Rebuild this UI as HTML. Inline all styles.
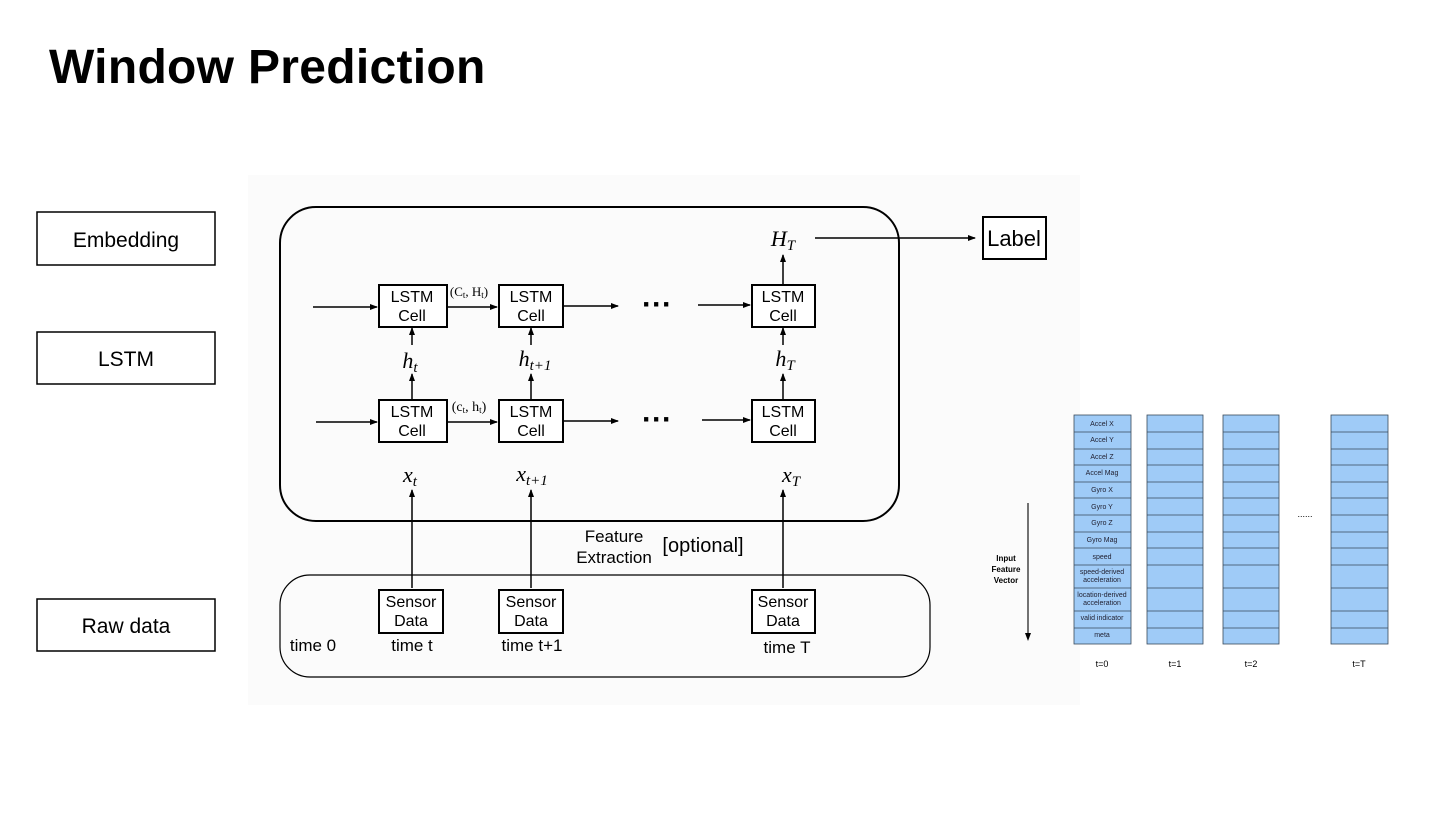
<!DOCTYPE html>
<html><head><meta charset="utf-8"><style>
body{margin:0;width:1440px;height:810px;background:#fff;overflow:hidden;font-family:"Liberation Sans",sans-serif}
</style></head><body>
<svg width="1440" height="810" viewBox="0 0 1440 810" xmlns="http://www.w3.org/2000/svg" font-family="Liberation Sans, sans-serif">
<defs><marker id="a" markerWidth="8" markerHeight="8" refX="7" refY="4" orient="auto" markerUnits="userSpaceOnUse"><path d="M0,1 L8,4 L0,7 Z" fill="#000"/></marker></defs>
<rect x="248" y="175" width="832" height="530" fill="#fbfbfb"/>
<text x="49" y="83" font-size="48" font-weight="bold" letter-spacing="0.3">Window Prediction</text>
<g fill="#fff" stroke="#000" stroke-width="1.5">
<rect x="37" y="212" width="178" height="53"/><rect x="37" y="332" width="178" height="52"/><rect x="37" y="599" width="178" height="52"/>
</g>
<g font-size="21" text-anchor="middle"><text x="126" y="247">Embedding</text><text x="126" y="366">LSTM</text><text x="126" y="633">Raw data</text></g>
<rect x="280" y="207" width="619" height="314" rx="36" fill="none" stroke="#000" stroke-width="2"/>
<rect x="280" y="575" width="650" height="102" rx="30" fill="none" stroke="#000" stroke-width="1.2"/>
<g fill="#fff" stroke="#000" stroke-width="2">
<rect x="379" y="285" width="68" height="42"/><rect x="499" y="285" width="64" height="42"/><rect x="752" y="285" width="63" height="42"/>
<rect x="379" y="400" width="68" height="42"/><rect x="499" y="400" width="64" height="42"/><rect x="752" y="400" width="63" height="42"/>
<rect x="379" y="590" width="64" height="43"/><rect x="499" y="590" width="64" height="43"/><rect x="752" y="590" width="63" height="43"/>
<rect x="983" y="217" width="63" height="42"/>
</g>
<g font-size="16" text-anchor="middle">
<text x="412" y="302">LSTM</text><text x="412" y="321">Cell</text>
<text x="531" y="302">LSTM</text><text x="531" y="321">Cell</text>
<text x="783" y="302">LSTM</text><text x="783" y="321">Cell</text>
<text x="412" y="417">LSTM</text><text x="412" y="436">Cell</text>
<text x="531" y="417">LSTM</text><text x="531" y="436">Cell</text>
<text x="783" y="417">LSTM</text><text x="783" y="436">Cell</text>
<text x="411" y="607">Sensor</text><text x="411" y="626">Data</text>
<text x="531" y="607">Sensor</text><text x="531" y="626">Data</text>
<text x="783" y="607">Sensor</text><text x="783" y="626">Data</text>
<text x="313" y="651" font-size="17">time 0</text>
<text x="412" y="651" font-size="17">time t</text>
<text x="532" y="651" font-size="17">time t+1</text>
<text x="787" y="653" font-size="17">time T</text>
<text x="614" y="542" font-size="17">Feature</text>
<text x="614" y="563" font-size="17">Extraction</text>
<text x="703" y="552" font-size="20">[optional]</text>
<text x="1014" y="246" font-size="22">Label</text>
</g>
<g stroke="#000" stroke-width="1.5" fill="none" marker-end="url(#a)">
<line x1="313" y1="307" x2="377" y2="307"/><line x1="448" y1="307" x2="497" y2="307"/><line x1="564" y1="306" x2="618" y2="306"/><line x1="698" y1="305" x2="750" y2="305"/>
<line x1="316" y1="422" x2="377" y2="422"/><line x1="448" y1="422" x2="497" y2="422"/><line x1="564" y1="421" x2="618" y2="421"/><line x1="702" y1="420" x2="750" y2="420"/>
<line x1="412" y1="345" x2="412" y2="328"/><line x1="412" y1="399" x2="412" y2="374"/>
<line x1="531" y1="345" x2="531" y2="328"/><line x1="531" y1="399" x2="531" y2="374"/>
<line x1="783" y1="345" x2="783" y2="328"/><line x1="783" y1="399" x2="783" y2="374"/>
<line x1="783" y1="284" x2="783" y2="255"/>
<line x1="412" y1="588" x2="412" y2="490"/><line x1="531" y1="588" x2="531" y2="490"/><line x1="783" y1="588" x2="783" y2="490"/>
<line x1="815" y1="238" x2="975" y2="238"/>
</g>
<g font-family="Liberation Serif, serif" font-style="italic" font-size="22" text-anchor="middle">
<text x="410" y="368">h<tspan font-size="15" dy="4">t</tspan></text>
<text x="535" y="366">h<tspan font-size="15" dy="4">t+1</tspan></text>
<text x="785" y="366">h<tspan font-size="15" dy="4">T</tspan></text>
<text x="410" y="482">x<tspan font-size="15" dy="4">t</tspan></text>
<text x="532" y="481">x<tspan font-size="15" dy="4">t+1</tspan></text>
<text x="791" y="482">x<tspan font-size="15" dy="4">T</tspan></text>
<text x="783" y="246">H<tspan font-size="15" dy="4">T</tspan></text>
<text x="469" y="296" font-size="13" font-style="normal">(C<tspan font-size="9" dy="2">t</tspan><tspan dy="-2">, H</tspan><tspan font-size="9" dy="2">t</tspan><tspan dy="-2">)</tspan></text>
<text x="469" y="411" font-size="14" font-style="normal">(c<tspan font-size="9" dy="2">t</tspan><tspan dy="-2">, h</tspan><tspan font-size="9" dy="2">t</tspan><tspan dy="-2">)</tspan></text>
</g>
<g font-size="30" font-weight="bold" text-anchor="middle"><text x="657" y="314">···</text><text x="657" y="429">···</text></g>
<g fill="#9fcbf7" stroke="#3a4a5a" stroke-width="0.8">
<rect x="1074" y="415" width="57" height="229"/><rect x="1147" y="415" width="56" height="229"/><rect x="1223" y="415" width="56" height="229"/><rect x="1331" y="415" width="57" height="229"/>
</g>
<g stroke="#3a4a5a" stroke-width="0.8">
<path d="M1074 432H1131M1074 449H1131M1074 465H1131M1074 482H1131M1074 498H1131M1074 515H1131M1074 532H1131M1074 548H1131M1074 565H1131M1074 588H1131M1074 611H1131M1074 628H1131"/>
<path d="M1147 432H1203M1147 449H1203M1147 465H1203M1147 482H1203M1147 498H1203M1147 515H1203M1147 532H1203M1147 548H1203M1147 565H1203M1147 588H1203M1147 611H1203M1147 628H1203"/>
<path d="M1223 432H1279M1223 449H1279M1223 465H1279M1223 482H1279M1223 498H1279M1223 515H1279M1223 532H1279M1223 548H1279M1223 565H1279M1223 588H1279M1223 611H1279M1223 628H1279"/>
<path d="M1331 432H1388M1331 449H1388M1331 465H1388M1331 482H1388M1331 498H1388M1331 515H1388M1331 532H1388M1331 548H1388M1331 565H1388M1331 588H1388M1331 611H1388M1331 628H1388"/>
</g>
<g font-size="7" text-anchor="middle" fill="#223">
<text x="1102" y="426">Accel X</text><text x="1102" y="442">Accel Y</text><text x="1102" y="459">Accel Z</text><text x="1102" y="475">Accel Mag</text>
<text x="1102" y="492">Gyro X</text><text x="1102" y="509">Gyro Y</text><text x="1102" y="525">Gyro Z</text><text x="1102" y="542">Gyro Mag</text>
<text x="1102" y="559">speed</text><text x="1102" y="574">speed-derived</text><text x="1102" y="582">acceleration</text>
<text x="1102" y="597">location-derived</text><text x="1102" y="605">acceleration</text>
<text x="1102" y="620">valid indicator</text><text x="1102" y="637">meta</text>
</g>
<g font-size="9" text-anchor="middle"><text x="1102" y="667">t=0</text><text x="1175" y="667">t=1</text><text x="1251" y="667">t=2</text><text x="1359" y="667">t=T</text>
<text x="1305" y="517">......</text></g>
<g font-size="8" font-weight="bold" text-anchor="middle"><text x="1006" y="561">Input</text><text x="1006" y="572">Feature</text><text x="1006" y="583">Vector</text></g>
<line x1="1028" y1="503" x2="1028" y2="634" stroke="#444" stroke-width="1.5"/>
<path d="M1025 633 L1031 633 L1028 641 Z" fill="#000"/>
</svg>
</body></html>
